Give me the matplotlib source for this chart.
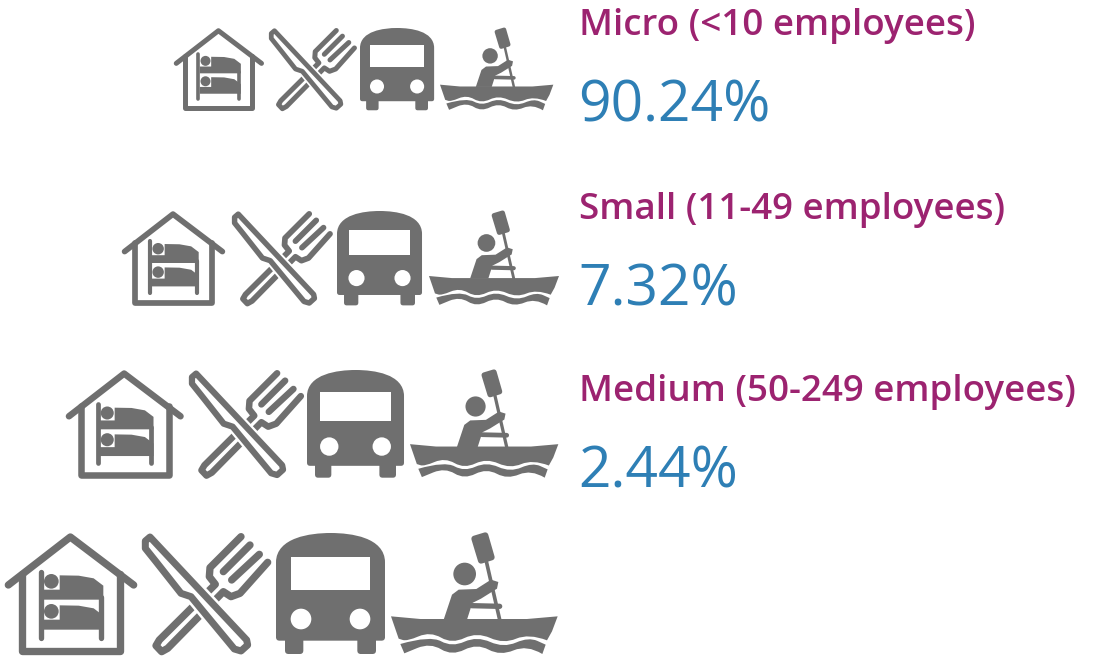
import matplotlib
matplotlib.use("Agg")
import matplotlib.pyplot as plt
from matplotlib.patches import Circle, PathPatch, Polygon, Rectangle
from matplotlib.path import Path
from matplotlib.transforms import Affine2D

DPI = 100
GREY = "#6f6f6f"
PURPLE = "#9c2370"
BLUE = "#2e7fb5"

# firm size tiers, top to bottom
labels = ["Micro (<10 employees)", "Small (11-49 employees)", "Medium (50-249 employees)"]
shares = [90.24, 7.32, 2.44]
label_y = [35, 219, 401]
share_y = [122, 305, 488]

# icon rows, pixels
row_scale = [0.68, 0.78, 0.89, 1.0]
row_top = [28, 211, 370, 533]
house_x = [174, 122, 66, 5]
knife_x = [269, 232, 189, 142]
bus_x = [360, 337, 307, 276]
kayak_x = [440, 429, 410, 391]

fig = plt.figure(figsize=(10.93, 6.56), dpi=DPI)
ax = fig.add_axes([0, 0, 1, 1])
ax.set_xlim(0, 1093)
ax.set_ylim(656, 0)
ax.axis("off")


def px(width):
    return width * 72 / DPI


def smooth(points):
    # quadratic curve through the midpoints of the given points
    verts = [points[0]]
    codes = [Path.MOVETO]
    for a, b in zip(points[1:-1], points[2:]):
        verts += [a, ((a[0] + b[0]) / 2, (a[1] + b[1]) / 2)]
        codes += [Path.CURVE3, Path.CURVE3]
    verts.append(points[-1])
    codes.append(Path.LINETO)
    return verts, codes


def stroke(ax, tr, s, points, width, color=GREY, closed=False, fill="none"):
    patch = Polygon(points, closed=closed, facecolor=fill, edgecolor=color,
                    linewidth=px(width * s / 3), joinstyle="round", capstyle="round",
                    transform=tr)
    ax.add_patch(patch)


def solid(ax, tr, points):
    ax.add_patch(Polygon(points, closed=True, facecolor=GREY, edgecolor="none", transform=tr))


def place(ax, left, top, s, x0, y0):
    return Affine2D().translate(-x0, -y0).scale(s / 3).translate(left, top) + ax.transData


def draw_house(ax, left, top, s):
    tr = place(ax, left, top, s, 14, 22)
    stroke(ax, tr, s, [(24, 178), (210, 34), (400, 178)], 22)
    stroke(ax, tr, s, [(64, 145), (64, 376), (360, 376), (360, 145)], 22)
    stroke(ax, tr, s, [(121, 138), (121, 336)], 16)
    stroke(ax, tr, s, [(301, 215), (301, 336)], 16)
    for dy in [0, 90]:
        solid(ax, tr, [(178, 149 + dy), (235, 150 + dy), (280, 158 + dy), (309, 180 + dy),
                       (309, 222 + dy), (128, 222 + dy), (128, 192 + dy), (178, 192 + dy)])
        ax.add_patch(Circle((153, 167 + dy), 22, facecolor=GREY, edgecolor="none", transform=tr))


def draw_knife(ax, left, top, s):
    tr = place(ax, left, top, s, 428, 24)
    fork = [(725, 35), (632, 128), (630, 155), (648, 178), (480, 345), (470, 362), (487, 380),
            (505, 370), (672, 200), (695, 215), (722, 205), (805, 112)]
    stroke(ax, tr, s, fork, 22)
    stroke(ax, tr, s, [(752, 60), (672, 140)], 22)
    stroke(ax, tr, s, [(780, 88), (697, 165)], 22)
    blade = [(452, 36), (742, 345), (745, 360), (725, 378), (705, 372), (575, 215), (545, 205),
             (470, 110), (438, 70), (438, 48)]
    stroke(ax, tr, s, blade, 36, color="white", closed=True, fill="white")
    stroke(ax, tr, s, blade, 21, closed=True, fill="white")


def draw_bus(ax, left, top, s):
    tr = place(ax, left, top, s, 18, 22)
    # shape is inset, the thick round edge brings it out to full size
    verts = [(27, 110), (27, 45), (120, 31), (182, 31), (245, 31), (336, 45), (336, 110),
             (336, 336), (309, 336), (309, 376), (271, 376), (271, 336), (91, 336), (91, 376),
             (54, 376), (54, 336), (27, 336), (27, 110)]
    codes = [Path.MOVETO, Path.CURVE4, Path.CURVE4, Path.CURVE4, Path.CURVE4, Path.CURVE4, Path.CURVE4,
             Path.LINETO, Path.LINETO, Path.LINETO, Path.LINETO, Path.LINETO, Path.LINETO, Path.LINETO,
             Path.LINETO, Path.LINETO, Path.LINETO, Path.CLOSEPOLY]
    ax.add_patch(PathPatch(Path(verts, codes), facecolor=GREY, edgecolor=GREY,
                           linewidth=px(18 * s / 3), joinstyle="round", transform=tr))
    ax.add_patch(Rectangle((63, 95), 237, 98, facecolor="white", edgecolor="none", transform=tr))
    for cx in [93, 270]:
        ax.add_patch(Circle((cx, 280), 31, facecolor="white", edgecolor="none", transform=tr))


def draw_kayak(ax, left, top, s):
    tr = place(ax, left, top, s, 362, 25)
    # paddle
    stroke(ax, tr, s, [(612, 42), (645, 32), (664, 98), (632, 108)], 18, closed=True, fill=GREY)
    stroke(ax, tr, s, [(648, 110), (688, 285)], 11)
    # paddler
    ax.add_patch(Circle((583, 148), 34, facecolor=GREY, edgecolor="none", transform=tr))
    solid(ax, tr, [(520, 285), (545, 210), (565, 195), (618, 193), (662, 165), (684, 172),
                   (680, 192), (632, 222), (606, 235), (590, 285)])
    stroke(ax, tr, s, [(604, 243), (688, 245)], 16)
    # hull, its lower edge is the first wave
    top_edge = [(362, 275), (450, 283), (770, 283), (862, 275), (845, 320), (830, 347)]
    wave1 = [(830, 347), (775, 326), (700, 358), (620, 322), (545, 358), (480, 320), (410, 350), (385, 342)]
    verts, codes = smooth(wave1)
    verts = top_edge + verts[1:] + [(362, 275)]
    codes = [Path.MOVETO] + [Path.LINETO] * (len(top_edge) - 1) + codes[1:] + [Path.CLOSEPOLY]
    ax.add_patch(PathPatch(Path(verts, codes), facecolor=GREY, edgecolor="none", transform=tr))
    # water band below the hull
    upper = [(390, 358), (480, 332), (545, 368), (620, 334), (700, 370), (775, 337), (826, 360)]
    lower = [(816, 388), (770, 360), (690, 394), (620, 356), (545, 394), (480, 354), (402, 386)]
    v1, c1 = smooth(upper)
    v2, c2 = smooth(lower)
    verts = v1 + v2 + [(390, 358)]
    codes = c1 + [Path.LINETO] + c2[1:] + [Path.CLOSEPOLY]
    ax.add_patch(PathPatch(Path(verts, codes), facecolor=GREY, edgecolor="none", transform=tr))


for i, s in enumerate(row_scale):
    draw_house(ax, house_x[i], row_top[i], s)
    draw_knife(ax, knife_x[i], row_top[i], s)
    draw_bus(ax, bus_x[i], row_top[i], s)
    draw_kayak(ax, kayak_x[i], row_top[i], s)

for label, share, ly, sy in zip(labels, shares, label_y, share_y):
    ax.text(579, ly, label, color=PURPLE, fontsize=26.5, family="Open Sans", weight=600, va="baseline")
    ax.text(578, sy, f"{share:.2f}%", color=BLUE, fontsize=41, family="Open Sans", weight="normal", va="baseline")

fig.savefig("out.png", dpi=DPI)
